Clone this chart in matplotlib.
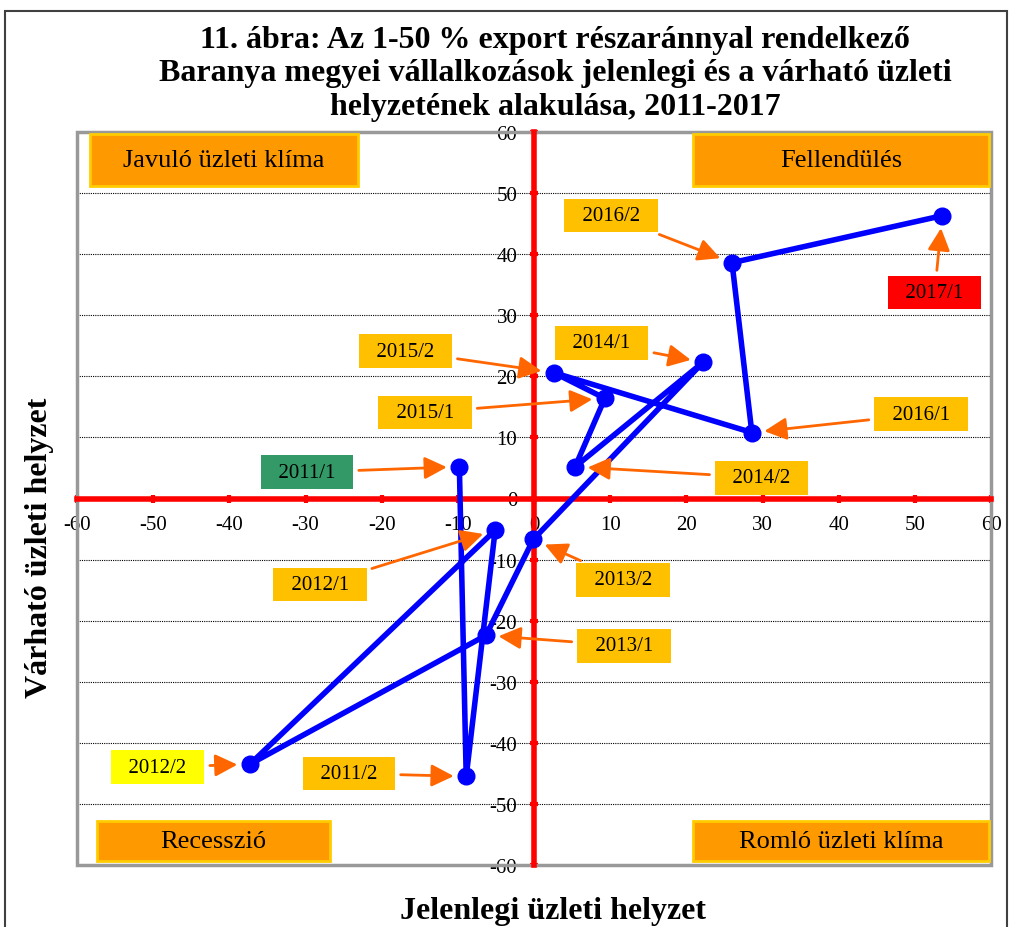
import matplotlib
matplotlib.use('Agg')
import matplotlib.pyplot as plt
from matplotlib.patches import Rectangle

plt.rcParams['font.family'] = ['Liberation Serif', 'DejaVu Serif']
plt.rcParams['axes.unicode_minus'] = False

# periods and (current, expected) business situation balances
periods = ['2011/1', '2011/2', '2012/1', '2012/2', '2013/1', '2013/2', '2014/1',
           '2014/2', '2015/1', '2015/2', '2016/1', '2016/2', '2017/1']
jelenlegi = [-9.8, -8.9, -5.1, -37.3, -6.3, -0.1, 22.2, 5.4, 9.3, 2.6, 28.6, 26.0, 53.6]
varhato = [5.2, -45.5, -5.2, -43.5, -22.4, -6.7, 22.3, 5.2, 16.4, 20.6, 10.8, 38.6, 46.3]

# label box placement (data coords) and fill colour
label_pos = {
  '2011/1': (-29.8, 4.3), '2011/2': (-24.3, -45.0), '2012/1': (-28.1, -14.1),
  '2012/2': (-49.4, -44.0), '2013/1': (11.8, -24.1), '2013/2': (11.7, -13.3),
  '2014/1': (8.9, 25.5), '2014/2': (29.9, 3.4), '2015/1': (-14.3, 14.1),
  '2015/2': (-16.9, 24.1), '2016/1': (50.8, 13.8), '2016/2': (10.1, 46.3),
  '2017/1': (52.6, 33.7),
}
label_color = {'2011/1': '#339966', '2012/2': '#FFFF00', '2017/1': '#FF0000'}

quadrants = [('Javuló üzleti klíma', 0.014, 0.926, 0.293, 0.071),
             ('Fellendülés', 0.674, 0.926, 0.324, 0.071),
             ('Recesszió', 0.022, 0.006, 0.255, 0.054),
             ('Romló üzleti klíma', 0.674, 0.006, 0.324, 0.054)]

fig = plt.figure(figsize=(10.1, 9.28), dpi=100)
fig.patches.append(Rectangle((5/1010, -0.1), 1002/1010, 1.1 - 12/928, transform=fig.transFigure,
                             fill=False, edgecolor='#404040', lw=1.5))
ax = fig.add_axes([77/1010, 1 - 866/928, 914/1010, 733/928])

ax.plot(jelenlegi, varhato, color='#0000FF', lw=4, marker='o', markersize=12, zorder=5)

ax.set_xlim(-60, 60)
ax.set_ylim(-60, 60)
ax.set_xticks(range(-60, 61, 10))
ax.set_yticks(range(-60, 61, 10))

for side in ['left', 'bottom']:
  ax.spines[side].set_position('zero')
  ax.spines[side].set_color('#FF0000')
  ax.spines[side].set_linewidth(4)
  ax.spines[side].set_zorder(3)
for side in ['right', 'top']:
  ax.spines[side].set_visible(False)
ax.add_patch(Rectangle((0, 0), 1, 1, transform=ax.transAxes, fill=False,
                       edgecolor='#999999', lw=2.5, clip_on=False, zorder=1))

ax.tick_params(axis='both', direction='inout', length=6, width=3, color='#FF0000',
               labelsize=15, pad=9)
ax.yaxis.grid(True, linestyle=(0, (1, 1)), color='black', lw=0.8, zorder=0)
ax.set_axisbelow(True)

for name, x0, y0, w, h in quadrants:
  ax.add_patch(Rectangle((x0, y0), w, h, transform=ax.transAxes, facecolor='#FF9900',
                         edgecolor='#FFCC00', lw=2, zorder=4))
  ax.text(x0 + w / 2, y0 + h / 2, name, transform=ax.transAxes, ha='center', va='center',
          fontsize=19, zorder=6)

for p, x, y in zip(periods, jelenlegi, varhato):
  ax.annotate('  ' + p + '  ', xy=(x, y), xytext=label_pos[p], ha='center', va='center',
              fontsize=15,
              bbox=dict(boxstyle='square,pad=0.35', facecolor=label_color.get(p, '#FFC000'),
                        edgecolor='none'),
              arrowprops=dict(arrowstyle='-|>,head_length=0.9,head_width=0.45', color='#FF6600',
                              lw=2, shrinkA=4, shrinkB=9),
              zorder=7)

fig.text(555/1010, 1 - 74/928, '11. ábra: Az 1-50 % export részaránnyal rendelkező\n'
         'Baranya megyei vállalkozások jelenlegi és a várható üzleti\n'
         'helyzetének alakulása, 2011-2017', ha='center', va='center', fontsize=23,
         fontweight='bold', linespacing=1.22)
fig.text(40/1010, 1 - 548/928, 'Várható üzleti helyzet', rotation=90, ha='center',
         va='center', fontsize=23, fontweight='bold')
fig.text(553/1010, 1 - 912/928, 'Jelenlegi üzleti helyzet', ha='center', va='center',
         fontsize=23, fontweight='bold')

fig.savefig('out.png', dpi=100)
